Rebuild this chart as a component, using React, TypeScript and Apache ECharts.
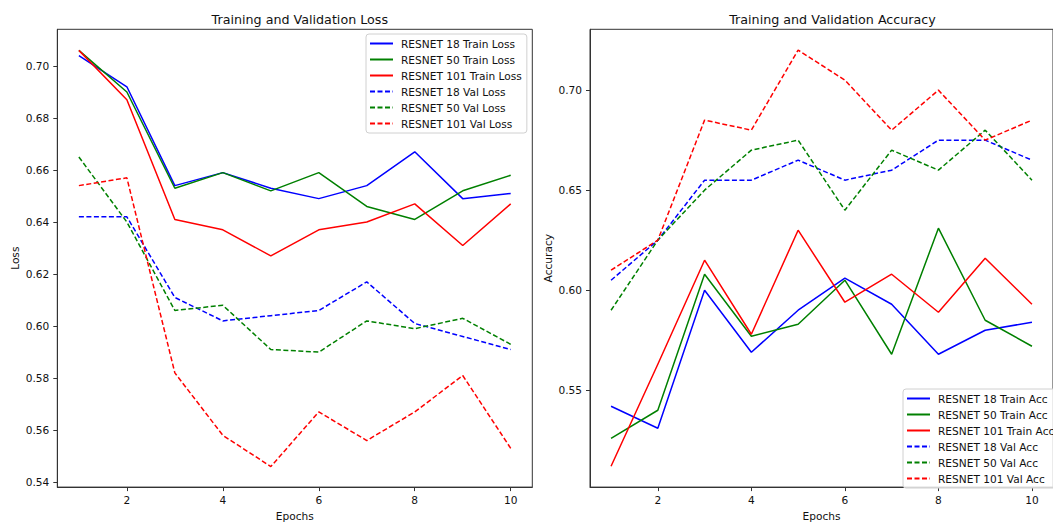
import React, { useEffect, useRef } from "react";
import * as echarts from "echarts";

const epochs = [1, 2, 3, 4, 5, 6, 7, 8, 9, 10];

const r18TrainLoss = [0.704, 0.692, 0.654, 0.659, 0.653, 0.649, 0.654, 0.667, 0.649, 0.651];
const r50TrainLoss = [0.706, 0.690, 0.653, 0.659, 0.652, 0.659, 0.646, 0.641, 0.652, 0.658];
const r101TrainLoss = [0.706, 0.687, 0.641, 0.637, 0.627, 0.637, 0.640, 0.647, 0.631, 0.647];
const r18ValLoss = [0.642, 0.642, 0.611, 0.602, 0.604, 0.606, 0.617, 0.601, 0.596, 0.591];
const r50ValLoss = [0.665, 0.640, 0.606, 0.608, 0.591, 0.590, 0.602, 0.599, 0.603, 0.593];
const r101ValLoss = [0.654, 0.657, 0.582, 0.558, 0.546, 0.567, 0.556, 0.567, 0.581, 0.553];

const r18TrainAcc = [0.542, 0.531, 0.600, 0.569, 0.590, 0.606, 0.593, 0.568, 0.580, 0.584];
const r50TrainAcc = [0.526, 0.540, 0.608, 0.577, 0.583, 0.605, 0.568, 0.631, 0.585, 0.572];
const r101TrainAcc = [0.512, 0.563, 0.615, 0.578, 0.630, 0.594, 0.608, 0.589, 0.616, 0.593];
const r18ValAcc = [0.605, 0.625, 0.655, 0.655, 0.665, 0.655, 0.660, 0.675, 0.675, 0.665];
const r50ValAcc = [0.590, 0.625, 0.650, 0.670, 0.675, 0.640, 0.670, 0.660, 0.680, 0.655];
const r101ValAcc = [0.610, 0.625, 0.685, 0.680, 0.720, 0.705, 0.680, 0.700, 0.675, 0.685];

const xTicks = [2, 4, 6, 8, 10];
const lossTicks = [0.54, 0.56, 0.58, 0.6, 0.62, 0.64, 0.66, 0.68, 0.7];
const accTicks = [0.55, 0.6, 0.65, 0.7];

const FONT = "DejaVu Sans";
const TXT = "#111";
const AX = "#333";
const FS = 10.6;

function pairs(v: number[]) {
  return epochs.map((e, i) => [e, v[i]]);
}

function mkSeries(name: string, vals: number[], color: string, dashed: boolean, idx: number) {
  return {
    type: "line",
    name,
    data: pairs(vals),
    xAxisIndex: idx,
    yAxisIndex: idx,
    symbol: "none",
    lineStyle: { color, width: 1.5, type: dashed ? [5, 2.5] : "solid" },
    itemStyle: { color },
    z: 3,
  };
}

function xAxisCfg(idx: number) {
  return {
    type: "value",
    gridIndex: idx,
    min: 0.55,
    max: 10.45,
    name: "Epochs",
    nameLocation: "middle",
    nameGap: 22,
    nameTextStyle: { fontFamily: FONT, fontSize: FS, color: TXT },
    axisLine: { show: true, lineStyle: { color: AX, width: 1 } },
    axisTick: { show: true, inside: false, length: 4, customValues: xTicks, lineStyle: { color: AX } },
    axisLabel: {
      customValues: xTicks,
      margin: 7,
      fontFamily: FONT,
      fontSize: FS,
      color: TXT,
    },
    splitLine: { show: false },
  };
}

function yAxisCfg(idx: number, min: number, max: number, ticks: number[], name: string) {
  return {
    type: "value",
    gridIndex: idx,
    min,
    max,
    name,
    nameLocation: "middle",
    nameGap: 37,
    nameTextStyle: { fontFamily: FONT, fontSize: FS, color: TXT },
    axisLine: { show: true, lineStyle: { color: AX, width: 1 } },
    axisTick: { show: true, inside: false, length: 4, customValues: ticks, lineStyle: { color: AX } },
    axisLabel: {
      customValues: ticks,
      margin: 8,
      fontFamily: FONT,
      fontSize: FS,
      color: TXT,
      formatter: (v: number) => v.toFixed(2),
    },
    splitLine: { show: false },
  };
}

function legendCfg(left: number, top: number, names: string[]) {
  return {
    orient: "vertical",
    left,
    top,
    data: names,
    itemWidth: 23,
    itemHeight: 10,
    itemGap: 5,
    padding: [4, 5, 4, 3],
    backgroundColor: "rgba(255,255,255,0.8)",
    borderColor: "#d0d0d0",
    borderWidth: 1,
    borderRadius: 3,
    itemStyle: { opacity: 0 },
    textStyle: { fontFamily: FONT, fontSize: FS, color: TXT, padding: [0, 0, 0, 3] },
  };
}

export default function App() {
  const ref = useRef<HTMLDivElement>(null);
  useEffect(() => {
    if (!ref.current) return;
    const chart = echarts.init(ref.current, undefined, { renderer: "svg" });
    const lossNames = [
      "RESNET 18 Train Loss",
      "RESNET 50 Train Loss",
      "RESNET 101 Train Loss",
      "RESNET 18 Val Loss",
      "RESNET 50 Val Loss",
      "RESNET 101 Val Loss",
    ];
    const accNames = [
      "RESNET 18 Train Acc",
      "RESNET 50 Train Acc",
      "RESNET 101 Train Acc",
      "RESNET 18 Val Acc",
      "RESNET 50 Val Acc",
      "RESNET 101 Val Acc",
    ];
    chart.setOption({
      animation: false,
      backgroundColor: "#fff",
      title: [
        {
          text: "Training and Validation Loss",
          left: 294.8,
          top: 8,
          textAlign: "center",
          textStyle: { fontFamily: FONT, fontSize: 12.7, fontWeight: "normal", color: TXT },
        },
        {
          text: "Training and Validation Accuracy",
          left: 827.5,
          top: 8,
          textAlign: "center",
          textStyle: { fontFamily: FONT, fontSize: 12.7, fontWeight: "normal", color: TXT },
        },
      ],
      grid: [
        { left: 57.3, top: 29.3, width: 475, height: 465.7, show: true, borderColor: AX, borderWidth: 1, backgroundColor: "transparent", containLabel: false },
        { left: 590, top: 29.3, width: 475, height: 465.7, show: true, borderColor: AX, borderWidth: 1, backgroundColor: "transparent", containLabel: false },
      ],
      xAxis: [xAxisCfg(0), xAxisCfg(1)],
      yAxis: [
        yAxisCfg(0, 0.5381, 0.7141, lossTicks, "Loss"),
        yAxisCfg(1, 0.5016, 0.7304, accTicks, "Accuracy"),
      ],
      legend: [legendCfg(366, 34, lossNames), legendCfg(903, 389, accNames)],
      series: [
        mkSeries(lossNames[0], r18TrainLoss, "#0000ff", false, 0),
        mkSeries(lossNames[1], r50TrainLoss, "#008000", false, 0),
        mkSeries(lossNames[2], r101TrainLoss, "#ff0000", false, 0),
        mkSeries(lossNames[3], r18ValLoss, "#0000ff", true, 0),
        mkSeries(lossNames[4], r50ValLoss, "#008000", true, 0),
        mkSeries(lossNames[5], r101ValLoss, "#ff0000", true, 0),
        mkSeries(accNames[0], r18TrainAcc, "#0000ff", false, 1),
        mkSeries(accNames[1], r50TrainAcc, "#008000", false, 1),
        mkSeries(accNames[2], r101TrainAcc, "#ff0000", false, 1),
        mkSeries(accNames[3], r18ValAcc, "#0000ff", true, 1),
        mkSeries(accNames[4], r50ValAcc, "#008000", true, 1),
        mkSeries(accNames[5], r101ValAcc, "#ff0000", true, 1),
      ],
    });
    return () => chart.dispose();
  }, []);
  return (
    <div
      ref={ref}
      style={{ position: "fixed", left: 0, top: 0, width: 1053, height: 526, background: "#fff" }}
    />
  );
}
